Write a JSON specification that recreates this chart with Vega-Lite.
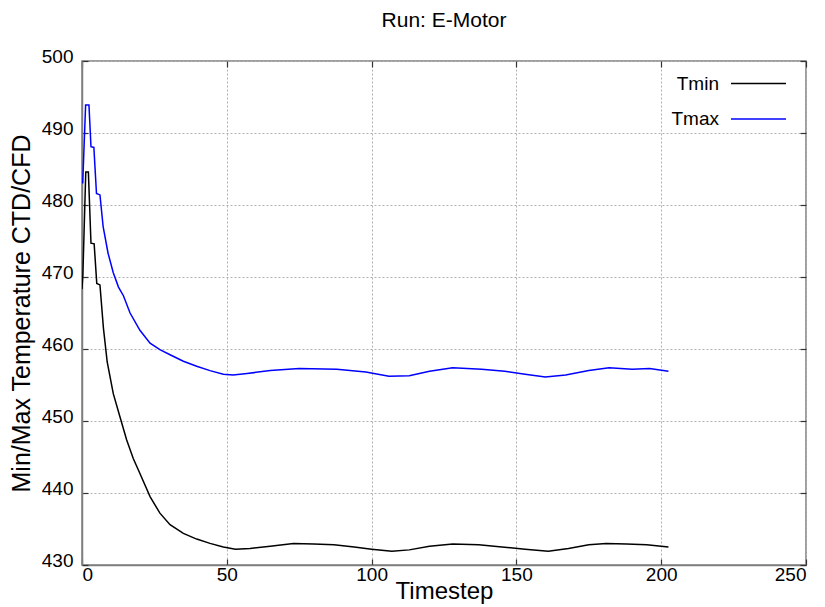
{
  "$schema": "https://vega.github.io/schema/vega-lite/v6.json",
  "width": 724,
  "height": 504,
  "autosize": {"type": "none"},
  "padding": {"left": 82, "top": 61, "right": 19, "bottom": 42},
  "background": "white",
  "title": {"text": "Run: E-Motor", "fontSize": 21, "fontWeight": "normal", "font": "Liberation Sans", "color": "black", "offset": 16, "frame": "group"},
  "config": {
    "font": "Liberation Sans",
    "view": {"stroke": "#7f7f7f", "strokeWidth": 1.5},
    "axis": {
      "labelFont": "Liberation Sans", "labelFontSize": 19, "labelColor": "black",
      "titleFont": "Liberation Sans", "titleFontWeight": "normal", "titleColor": "black",
      "domainColor": "#7f7f7f", "domainWidth": 1.5,
      "tickColor": "#333333", "tickSize": -6, "tickWidth": 1.2,
      "gridColor": "#b0b0b0", "gridDash": [2, 2], "gridWidth": 1
    }
  },
  "data": {"values": [
    {"t": 0, "T": 468.3, "s": "Tmin"}, {"t": 0.3, "T": 470.3, "s": "Tmin"}, {"t": 1.3, "T": 484.6, "s": "Tmin"},
    {"t": 2.2, "T": 484.6, "s": "Tmin"}, {"t": 3.1, "T": 474.7, "s": "Tmin"}, {"t": 4.2, "T": 474.6, "s": "Tmin"},
    {"t": 5.1, "T": 469.1, "s": "Tmin"}, {"t": 6.2, "T": 468.9, "s": "Tmin"}, {"t": 7.4, "T": 462.9, "s": "Tmin"},
    {"t": 8.7, "T": 458.2, "s": "Tmin"}, {"t": 10.8, "T": 453.8, "s": "Tmin"}, {"t": 13.1, "T": 450.6, "s": "Tmin"},
    {"t": 15.4, "T": 447.4, "s": "Tmin"}, {"t": 17.7, "T": 444.8, "s": "Tmin"}, {"t": 20, "T": 442.7, "s": "Tmin"},
    {"t": 23.5, "T": 439.5, "s": "Tmin"}, {"t": 26.9, "T": 437.2, "s": "Tmin"}, {"t": 30.4, "T": 435.6, "s": "Tmin"},
    {"t": 35, "T": 434.4, "s": "Tmin"}, {"t": 39.6, "T": 433.6, "s": "Tmin"}, {"t": 44.2, "T": 433.0, "s": "Tmin"},
    {"t": 48.8, "T": 432.5, "s": "Tmin"}, {"t": 53, "T": 432.2, "s": "Tmin"}, {"t": 58, "T": 432.3, "s": "Tmin"},
    {"t": 65, "T": 432.6, "s": "Tmin"}, {"t": 73, "T": 433.0, "s": "Tmin"}, {"t": 80, "T": 432.9, "s": "Tmin"},
    {"t": 87, "T": 432.8, "s": "Tmin"}, {"t": 94, "T": 432.5, "s": "Tmin"}, {"t": 100, "T": 432.2, "s": "Tmin"},
    {"t": 107, "T": 431.9, "s": "Tmin"}, {"t": 113, "T": 432.1, "s": "Tmin"}, {"t": 120, "T": 432.6, "s": "Tmin"},
    {"t": 128, "T": 432.9, "s": "Tmin"}, {"t": 137, "T": 432.8, "s": "Tmin"}, {"t": 145, "T": 432.5, "s": "Tmin"},
    {"t": 153, "T": 432.2, "s": "Tmin"}, {"t": 161, "T": 431.9, "s": "Tmin"}, {"t": 168, "T": 432.3, "s": "Tmin"},
    {"t": 175, "T": 432.8, "s": "Tmin"}, {"t": 181, "T": 433.0, "s": "Tmin"}, {"t": 188, "T": 432.9, "s": "Tmin"},
    {"t": 195, "T": 432.8, "s": "Tmin"}, {"t": 202.5, "T": 432.5, "s": "Tmin"},
    {"t": 0, "T": 483.1, "s": "Tmax"}, {"t": 0.25, "T": 483.1, "s": "Tmax"}, {"t": 1.25, "T": 493.9, "s": "Tmax"},
    {"t": 2.4, "T": 493.9, "s": "Tmax"}, {"t": 3.1, "T": 488.1, "s": "Tmax"}, {"t": 4.1, "T": 488.0, "s": "Tmax"},
    {"t": 5.0, "T": 481.6, "s": "Tmax"}, {"t": 6.2, "T": 481.4, "s": "Tmax"}, {"t": 7.3, "T": 477.0, "s": "Tmax"},
    {"t": 9.0, "T": 473.3, "s": "Tmax"}, {"t": 10.8, "T": 470.6, "s": "Tmax"}, {"t": 12.6, "T": 468.6, "s": "Tmax"},
    {"t": 14.3, "T": 467.4, "s": "Tmax"}, {"t": 16.6, "T": 465.0, "s": "Tmax"}, {"t": 20, "T": 462.6, "s": "Tmax"},
    {"t": 23.5, "T": 460.8, "s": "Tmax"}, {"t": 26.9, "T": 459.9, "s": "Tmax"}, {"t": 30.4, "T": 459.2, "s": "Tmax"},
    {"t": 35, "T": 458.3, "s": "Tmax"}, {"t": 39.6, "T": 457.6, "s": "Tmax"}, {"t": 44.2, "T": 457.0, "s": "Tmax"},
    {"t": 48.8, "T": 456.5, "s": "Tmax"}, {"t": 52.2, "T": 456.4, "s": "Tmax"}, {"t": 57, "T": 456.6, "s": "Tmax"},
    {"t": 65, "T": 457.0, "s": "Tmax"}, {"t": 75, "T": 457.3, "s": "Tmax"}, {"t": 88, "T": 457.2, "s": "Tmax"},
    {"t": 98, "T": 456.8, "s": "Tmax"}, {"t": 106, "T": 456.2, "s": "Tmax"}, {"t": 113, "T": 456.3, "s": "Tmax"},
    {"t": 120, "T": 456.9, "s": "Tmax"}, {"t": 128, "T": 457.4, "s": "Tmax"}, {"t": 138, "T": 457.2, "s": "Tmax"},
    {"t": 146, "T": 456.9, "s": "Tmax"}, {"t": 153, "T": 456.5, "s": "Tmax"}, {"t": 160, "T": 456.1, "s": "Tmax"},
    {"t": 167, "T": 456.4, "s": "Tmax"}, {"t": 175, "T": 457.0, "s": "Tmax"}, {"t": 182, "T": 457.4, "s": "Tmax"},
    {"t": 190, "T": 457.2, "s": "Tmax"}, {"t": 196, "T": 457.3, "s": "Tmax"}, {"t": 202.5, "T": 456.9, "s": "Tmax"}
  ]},
  "layer": [
    {
      "mark": {"type": "line", "strokeWidth": 1.5, "clip": true},
      "encoding": {
        "x": {"field": "t", "type": "quantitative", "scale": {"domain": [0, 250], "nice": false, "zero": false},
          "axis": {"title": "Timestep", "titleFontSize": 24, "values": [0, 50, 100, 150, 200, 250], "labelPadding": 6, "titlePadding": -5}},
        "y": {"field": "T", "type": "quantitative", "scale": {"domain": [430, 500], "nice": false, "zero": false},
          "axis": {"title": "Min/Max Temperature CTD/CFD", "titleFontSize": 25, "values": [430, 440, 450, 460, 470, 480, 490, 500], "labelPadding": 15, "labelOffset": -5, "titlePadding": 7}},
        "color": {"field": "s", "type": "nominal", "sort": ["Tmin", "Tmax"],
          "scale": {"domain": ["Tmin", "Tmax"], "range": ["black", "#0000ff"]},
          "legend": {"title": null, "orient": "none", "legendX": 662, "legendY": 8,
            "symbolType": "M-2,0H2", "symbolSize": 756, "symbolStrokeWidth": 1.5,
            "labelFontSize": 19, "labelFont": "Liberation Sans", "labelColor": "black",
            "labelAlign": "right", "labelOffset": -54, "rowPadding": 10.5}},
        "order": {"field": "t", "type": "quantitative"}
      }
    },
    {
      "mark": {"type": "line", "opacity": 0},
      "encoding": {
        "x": {"field": "t", "type": "quantitative",
          "axis": {"orient": "top", "title": null, "labels": false, "grid": false, "domain": false, "values": [0, 50, 100, 150, 200, 250]}},
        "y": {"field": "T", "type": "quantitative",
          "axis": {"orient": "right", "title": null, "labels": false, "grid": false, "domain": false, "values": [430, 440, 450, 460, 470, 480, 490, 500]}},
        "detail": {"field": "s"}
      }
    }
  ],
  "resolve": {"axis": {"x": "independent", "y": "independent"}}
}
